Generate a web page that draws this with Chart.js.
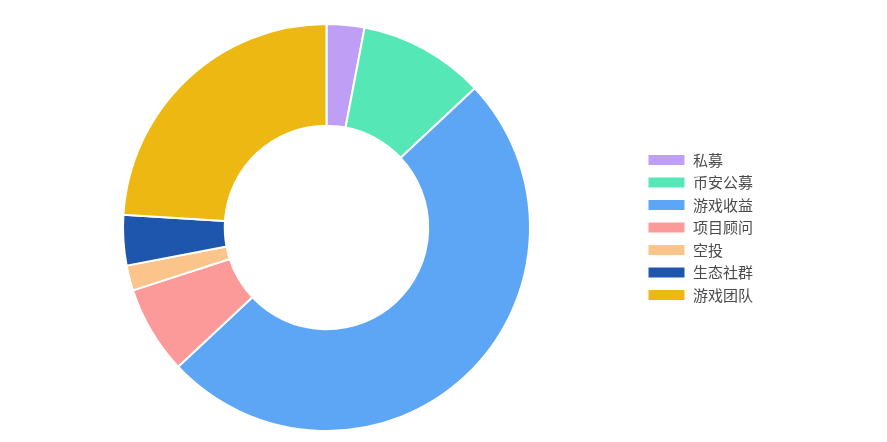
<!DOCTYPE html>
<html>
<head>
<meta charset="utf-8">
<script src="https://cdn.jsdelivr.net/npm/chart.js@4/dist/chart.umd.min.js"></script>
<style>
  html, body { margin: 0; padding: 0; background: #fff; }
  #wrap { width: 887px; height: 442px; position: relative; }
</style>
</head>
<body>
<div id="wrap"><canvas id="chart"></canvas></div>
<script>
const labels = ['私募', '币安公募', '游戏收益', '项目顾问', '空投', '生态社群', '游戏团队'];
const shares = [3, 10, 50, 7, 2, 4, 24];
const colors = ['#bf9ff5', '#55e8b6', '#5da5f5', '#fc9a9a', '#fbc48a', '#1f56ad', '#edb812'];

new Chart(document.getElementById('chart'), {
  type: 'doughnut',
  data: {
    labels: labels,
    datasets: [{
      data: shares,
      backgroundColor: colors,
      borderColor: '#fff',
      borderWidth: 2
    }]
  },
  options: {
    responsive: true,
    maintainAspectRatio: false,
    animation: false,
    cutout: '50%',
    layout: { padding: { top: 23, bottom: 10, left: 13, right: 124 } },
    plugins: {
      tooltip: { enabled: false },
      legend: {
        position: 'right',
        labels: {
          boxWidth: 38,
          boxHeight: 12,
          padding: 7.5,
          color: '#4a4a4a',
          font: { size: 15, family: '"Noto Sans CJK SC", "Noto Sans", sans-serif' }
        }
      }
    }
  }
});
</script>
</body>
</html>
